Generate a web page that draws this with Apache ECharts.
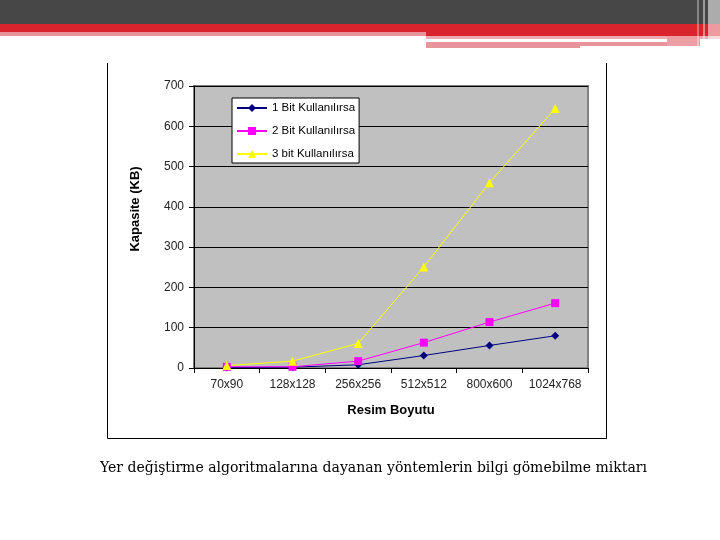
<!DOCTYPE html>
<html>
<head>
<meta charset="utf-8">
<script src="https://cdn.jsdelivr.net/npm/echarts@6/dist/echarts.min.js"></script>
<style>
html,body{margin:0;padding:0;background:#fff;}
#c{width:720px;height:540px;}
</style>
</head>
<body>
<div id="c"></div>
<script>
var categories = ['70x90', '128x128', '256x256', '512x512', '800x600', '1024x768'];
var seriesNames = ['1 Bit Kullanılırsa', '2 Bit Kullanılırsa', '3 bit Kullanılırsa'];
var bit1 = [1, 2, 8, 31, 56, 80];
var bit2 = [3, 3, 17, 63, 114, 161];
var bit3 = [6, 17, 61, 251, 460, 644];
var yTitle = 'Kapasite (KB)';
var xTitle = 'Resim Boyutu';
var caption = 'Yer değiştirme algoritmalarına dayanan yöntemlerin bilgi gömebilme miktarı';

var chart = echarts.init(document.getElementById('c'), null, {renderer: 'canvas'});
var font = 'Liberation Sans, Arial, sans-serif';

var option = {
  animation: false,
  backgroundColor: '#ffffff',
  grid: {
    left: 194, right: 132, top: 86, bottom: 172,
    show: true, backgroundColor: '#c0c0c0', borderColor: '#808080', borderWidth: 2
  },
  legend: {
    left: 232, top: 98, orient: 'vertical',
    backgroundColor: '#ffffff', borderColor: '#000', borderWidth: 1,
    padding: [4, 4, 3, 4], itemWidth: 30, itemHeight: 10, itemGap: 11,
    textStyle: {fontFamily: font, fontSize: 11.5, color: '#000'},
    data: seriesNames
  },
  xAxis: {
    type: 'category', data: categories, boundaryGap: true,
    name: xTitle, nameLocation: 'middle', nameGap: 36,
    nameTextStyle: {fontFamily: font, fontSize: 13, fontWeight: 'bold', color: '#000'},
    axisLine: {show: true, lineStyle: {color: '#000', width: 1}},
    axisTick: {show: true, length: 5, lineStyle: {color: '#000'}},
    axisLabel: {fontFamily: font, fontSize: 12, color: '#222', margin: 11, interval: 0},
    splitLine: {show: false}
  },
  yAxis: {
    type: 'value', min: 0, max: 700, interval: 100,
    name: yTitle, nameLocation: 'middle', nameGap: 52, nameRotate: 90,
    nameTextStyle: {fontFamily: font, fontSize: 13, fontWeight: 'bold', color: '#000', padding: [0, 0, 0, 36]},
    axisLine: {show: true, lineStyle: {color: '#000', width: 1}},
    axisTick: {show: true, length: 5, lineStyle: {color: '#000'}},
    axisLabel: {fontFamily: font, fontSize: 12, color: '#222', margin: 10},
    splitLine: {show: true, lineStyle: {color: '#000', width: 1}}
  },
  series: [
    {name: seriesNames[0], type: 'line', data: bit1, symbol: 'diamond', symbolSize: 8,
     lineStyle: {color: '#000080', width: 1}, itemStyle: {color: '#000080'}},
    {name: seriesNames[1], type: 'line', data: bit2, symbol: 'rect', symbolSize: 8,
     lineStyle: {color: '#ff00ff', width: 1}, itemStyle: {color: '#ff00ff'}},
    {name: seriesNames[2], type: 'line', data: bit3, symbol: 'triangle', symbolSize: 9,
     lineStyle: {color: '#ffff00', width: 1}, itemStyle: {color: '#ffff00'}}
  ],
  graphic: [
    // header
    {type: 'rect', shape: {x: 0, y: 0, width: 720, height: 24}, style: {fill: '#474747'}, silent: true},
    {type: 'rect', shape: {x: 0, y: 24, width: 720, height: 8}, style: {fill: '#d9232d'}, silent: true},
    {type: 'rect', shape: {x: 0, y: 32, width: 426, height: 4}, style: {fill: '#e8949a'}, silent: true},
    {type: 'rect', shape: {x: 426, y: 32, width: 294, height: 4}, style: {fill: '#d9232d'}, silent: true},
    {type: 'rect', shape: {x: 426, y: 36, width: 294, height: 3}, style: {fill: '#eeaab0'}, silent: true},
    {type: 'rect', shape: {x: 426, y: 42, width: 154, height: 6}, style: {fill: '#e8949a'}, silent: true},
    {type: 'rect', shape: {x: 580, y: 42, width: 87, height: 4}, style: {fill: '#e8949a'}, silent: true},
    {type: 'rect', shape: {x: 667, y: 36, width: 33, height: 10}, style: {fill: '#ec9ea4'}, silent: true},
    {type: 'rect', shape: {x: 697, y: 0, width: 2, height: 46}, style: {fill: 'rgba(255,255,255,0.35)'}, silent: true},
    {type: 'rect', shape: {x: 703, y: 0, width: 2, height: 46}, style: {fill: 'rgba(255,255,255,0.45)'}, silent: true},
    {type: 'rect', shape: {x: 708, y: 0, width: 12, height: 48}, style: {fill: 'rgba(255,255,255,0.55)'}, silent: true},
    // chart frame
    {type: 'polyline', shape: {points: [[107.5, 63], [107.5, 438.5], [606.5, 438.5], [606.5, 63]]},
     style: {stroke: '#000', lineWidth: 1, fill: null}, silent: true},
    // caption
    {type: 'text', left: 100, top: 461,
     style: {text: caption, font: '14px "DejaVu Serif", serif', fill: '#000'}, silent: true}
  ]
};
chart.setOption(option);
</script>
</body>
</html>
